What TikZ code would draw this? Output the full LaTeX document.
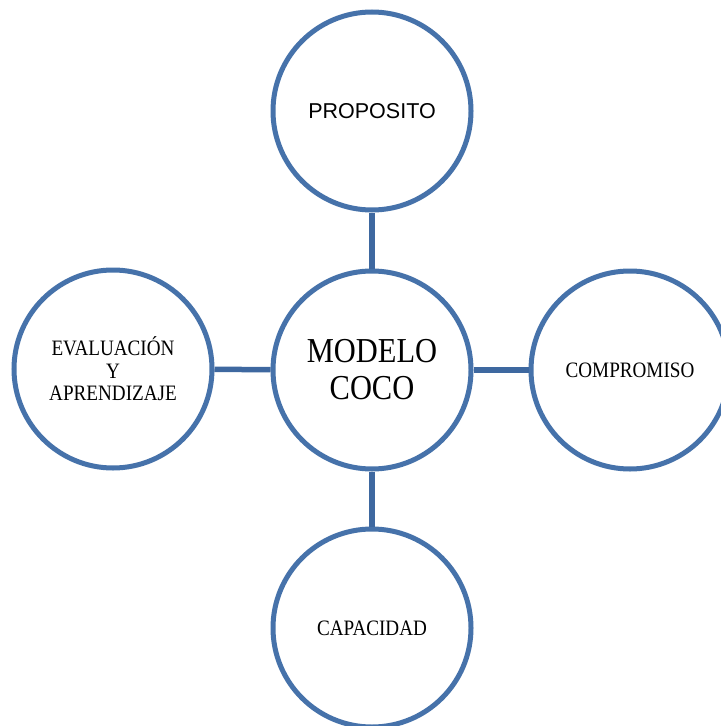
\documentclass[tikz,border=0pt]{standalone}
\usepackage{fontspec}
\setmainfont{Liberation Serif}
\newfontfamily\serifc[FakeStretch=0.87]{Liberation Serif}
\newfontfamily\arialf{Liberation Sans}
\definecolor{ringblue}{RGB}{70,114,170}
\definecolor{linkblue}{RGB}{62,104,160}
\tikzset{
  ring/.style={circle, draw=ringblue, line width=5bp, minimum size=198bp, inner sep=0pt, fill=white, align=center},
  link/.style={draw=linkblue, line width=5.5bp},
  smalltxt/.style={font=\serifc\fontsize{22bp}{22.5bp}\selectfont},
}
\begin{document}
\begin{tikzpicture}[x=1bp,y=-1bp]
\useasboundingbox (0,0) rectangle (721,726);
\clip (0,0) rectangle (721,726);
\fill[white] (0,0) rectangle (721,726);
\node[ring, font=\serifc\fontsize{35bp}{37bp}\selectfont] (c) at (372,370) {MODELO\\COCO};
\node[ring, font=\arialf\fontsize{21.5bp}{24bp}\selectfont] (t) at (372,111) {PROPOSITO};
\node[ring, smalltxt] (l) at (113,369) {EVALUACIÓN\\Y\\APRENDIZAJE};
\node[ring, smalltxt] (r) at (630,370) {COMPROMISO};
\node[ring, smalltxt] (b) at (372,628) {CAPACIDAD};
\draw[link] (c) -- (t);
\draw[link] (c) -- (b);
\draw[link] (c) -- (l);
\draw[link] (c) -- (r);
\end{tikzpicture}
\end{document}
